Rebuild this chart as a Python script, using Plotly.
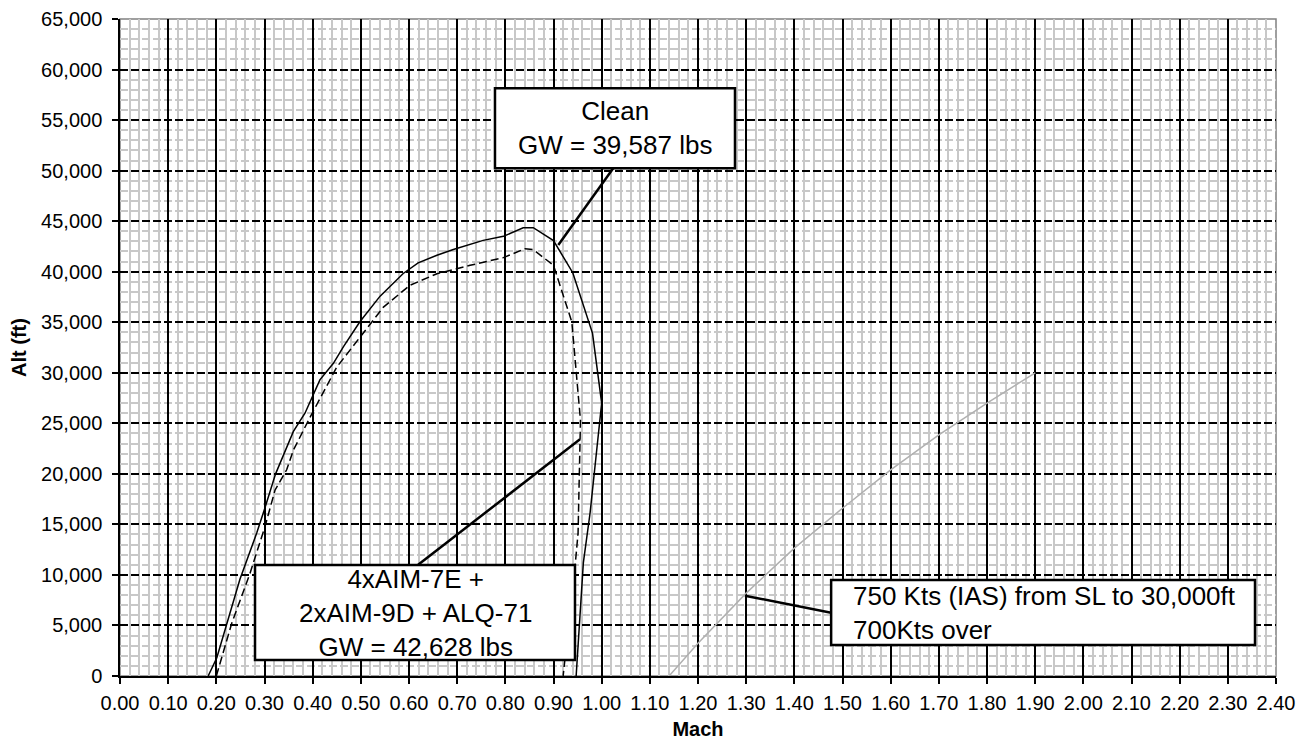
import plotly.graph_objects as go

# ---- data ----
clean_mach = [0.183, 0.201, 0.249, 0.284, 0.301, 0.323, 0.360, 0.384, 0.415, 0.443, 0.464,
              0.498, 0.540, 0.588, 0.619, 0.658, 0.692, 0.754, 0.796, 0.837, 0.858, 0.900,
              0.940, 0.981, 1.000, 0.976, 0.962, 0.947]
clean_alt = [0, 1800, 9570, 14170, 16640, 20000, 24200, 26000, 29300, 30940, 32580,
             35050, 37580, 39820, 40870, 41625, 42190, 43100, 43500, 44350, 44350, 43070,
             39900, 33900, 27000, 16150, 11220, 0]

loaded_mach = [0.200, 0.232, 0.270, 0.301, 0.322, 0.346, 0.360, 0.395, 0.450, 0.498, 0.547,
               0.602, 0.658, 0.727, 0.796, 0.841, 0.858, 0.900, 0.938, 0.956, 0.951, 0.945, 0.920]
loaded_alt = [0, 5220, 10170, 14780, 18410, 20400, 22350, 25640, 30560, 33560, 36500,
              38660, 39800, 40630, 41390, 42280, 42180, 40630, 35040, 25300, 14130, 11000, 0]

ias_mach = [1.14, 1.20, 1.30, 1.40, 1.50, 1.60, 1.70, 1.80, 1.90]
ias_alt = [0, 3250, 8200, 12650, 16600, 20400, 23850, 27000, 30000]

x_ticks = [round(i * 0.1, 2) for i in range(25)]
y_ticks = list(range(0, 65001, 5000))

label_clean = "Clean<br>GW = 39,587 lbs"
label_loaded = "4xAIM-7E +<br>2xAIM-9D + ALQ-71<br>GW = 42,628 lbs"
label_ias = "750 Kts (IAS) from SL to 30,000ft<br>700Kts over"

FONT = "Arial, Liberation Sans, sans-serif"

fig = go.Figure()
fig.add_trace(go.Scatter(x=clean_mach, y=clean_alt, mode="lines",
                         line=dict(color="black", width=1.5), name="Clean"))
fig.add_trace(go.Scatter(x=loaded_mach, y=loaded_alt, mode="lines",
                         line=dict(color="black", width=1.5, dash="8px,4px"), name="Loaded"))
fig.add_trace(go.Scatter(x=ias_mach, y=ias_alt, mode="lines",
                         line=dict(color="#b0b0b0", width=1.5), name="750 Kts"))

shapes = [
    # plot frame
    dict(type="rect", xref="paper", yref="paper", x0=0, x1=1, y0=0, y1=1,
         line=dict(color="#808080", width=1.5), layer="below"),
    # connector lines
    dict(type="line", x0=0.910, y0=42640, x1=1.024, y1=50230, line=dict(color="black", width=2.5), layer="above"),
    dict(type="line", x0=0.955, y0=23420, x1=0.619, y1=11000, line=dict(color="black", width=2.5), layer="above"),
    dict(type="line", x0=1.2975, y0=7944, x1=1.4764, y1=6262, line=dict(color="black", width=2.5), layer="above"),
    # label boxes
    dict(type="rect", x0=0.7785, x1=1.2768, y0=50230, y1=58140, fillcolor="white",
         line=dict(color="black", width=2.5), layer="above"),
    dict(type="rect", x0=0.2803, x1=0.9446, y0=1580, y1=10980, fillcolor="white",
         line=dict(color="black", width=2.5), layer="above"),
    dict(type="rect", x0=1.4764, x1=2.3564, y0=3070, y1=9500, fillcolor="white",
         line=dict(color="black", width=2.5), layer="above"),
]

annotations = [
    dict(x=1.0277, y=54185, text=label_clean, showarrow=False, xanchor="center", yanchor="middle",
         align="center", font=dict(family=FONT, size=26, color="black")),
    dict(x=0.6125, y=6280, text=label_loaded, showarrow=False, xanchor="center", yanchor="middle",
         align="center", font=dict(family=FONT, size=26, color="black")),
    dict(x=1.5177, y=6280, text=label_ias, showarrow=False, xanchor="left", yanchor="middle",
         align="left", font=dict(family=FONT, size=26, color="black")),
]

# the page body adds an 8px offset, compensated in the margins
fig.update_layout(
    width=1301, height=732,
    margin=dict(l=112, r=33, t=11, b=64, autoexpand=False),
    paper_bgcolor="white", plot_bgcolor="white",
    showlegend=False,
    font=dict(family=FONT, size=20, color="black"),
    shapes=shapes,
    annotations=annotations,
)

fig.update_xaxes(
    range=[0, 2.4], tickvals=x_ticks, tickformat=".2f",
    showline=True, linecolor="black", linewidth=1.5,
    ticks="outside", ticklen=6, tickcolor="black", tickwidth=1.5,
    ticklabelstandoff=2, automargin=False,
    showgrid=True, gridcolor="black", gridwidth=1.5,
    minor=dict(dtick=0.02, showgrid=True, gridcolor="#c8c8c8", gridwidth=1.5, ticks=""),
    zeroline=False,
    title=dict(text="Mach", font=dict(family=FONT, size=20, weight="bold"), standoff=12),
    tickfont=dict(family=FONT, size=20),
)
fig.update_yaxes(
    range=[0, 65000], tickvals=y_ticks, tickformat=",d",
    showline=True, linecolor="black", linewidth=1.5,
    ticks="outside", ticklen=6, tickcolor="black", tickwidth=1.5,
    ticklabelstandoff=6, automargin=False,
    showgrid=True, gridcolor="black", gridwidth=1.5, griddash="8px,3px",
    minor=dict(dtick=1000, showgrid=True, gridcolor="#c8c8c8", gridwidth=1.5, ticks=""),
    zeroline=False,
    title=dict(text="Alt (ft)", font=dict(family=FONT, size=20, weight="bold"), standoff=12),
    tickfont=dict(family=FONT, size=20),
)

fig.write_html("out.html")
